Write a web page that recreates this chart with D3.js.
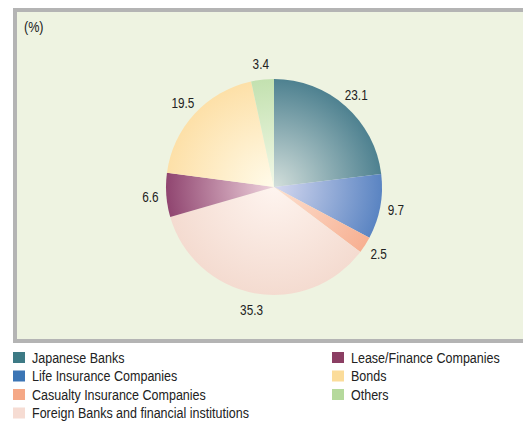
<!DOCTYPE html>
<html>
<head>
<meta charset="utf-8">
<script src="https://cdn.jsdelivr.net/npm/d3@7"></script>
<style>
  html, body { margin: 0; padding: 0; background: #fff; }
  svg { display: block; font-family: 'Liberation Sans', Arial, sans-serif; }
</style>
</head>
<body>
<div id="chart"></div>
<script>
const categories = [
  'Japanese Banks',
  'Life Insurance Companies',
  'Casualty Insurance Companies',
  'Foreign Banks and financial institutions',
  'Lease/Finance Companies',
  'Bonds',
  'Others'
];
const values = [23.1, 9.7, 2.5, 35.3, 6.6, 19.5, 3.4];
const labels = ['23.1', '9.7', '2.5', '35.3', '6.6', '19.5', '3.4'];
const unitLabel = '(%)';

// legend swatch colours and the slice edge / centre colours
const legendColors = ['#3d7a85', '#3b75b5', '#f5a886', '#f6dcd3', '#8b3e63', '#fbdc9a', '#b5d99c'];
const edgeColors = ['#4e8190', '#5a84c2', '#f7b092', '#f4dbd0', '#904570', '#fde0a8', '#c3e1b0'];
const centerColors = ['#d3dfdb', '#d6d9f0', '#fde0d0', '#fef4ef', '#efd3dd', '#fffbea', '#f3f9e8'];

const W = 523, H = 421;
const cx = 274, cy = 187, R = 108, labelR = 124;

const svg = d3.select('#chart').append('svg').attr('width', W).attr('height', H);

// panel
svg.append('rect')
  .attr('x', 15).attr('y', 10)
  .attr('width', 530).attr('height', 331)
  .attr('fill', '#eef3e1')
  .attr('stroke', '#b4b4b4')
  .attr('stroke-width', 4);

svg.append('text')
  .attr('transform', 'translate(24,32) scale(0.9,1)')
  .attr('font-size', 14)
  .attr('fill', '#222')
  .text(unitLabel);

// gradients
const defs = svg.append('defs');
categories.forEach((c, i) => {
  const g = defs.append('radialGradient')
    .attr('id', 'grad' + i)
    .attr('gradientUnits', 'userSpaceOnUse')
    .attr('cx', 0).attr('cy', 0).attr('r', R);
  g.append('stop').attr('offset', '0%').attr('stop-color', centerColors[i]);
  g.append('stop').attr('offset', '100%').attr('stop-color', edgeColors[i]);
});

const pie = d3.pie().sort(null).value(d => d);
const arcs = pie(values);
const arc = d3.arc().innerRadius(0).outerRadius(R);
const labelArc = d3.arc().innerRadius(labelR).outerRadius(labelR);

const pieG = svg.append('g').attr('transform', `translate(${cx},${cy})`);

pieG.selectAll('.slice')
  .data(arcs)
  .join('path')
  .attr('class', 'slice')
  .attr('d', arc)
  .attr('fill', (d, i) => `url(#grad${i})`);

pieG.selectAll('.lbl')
  .data(arcs)
  .join('text')
  .attr('class', 'lbl')
  .attr('transform', d => `translate(${labelArc.centroid(d)}) scale(0.76,1)`)
  .attr('text-anchor', 'middle')
  .attr('dy', '0.36em')
  .attr('font-size', 15.5)
  .attr('fill', '#222')
  .text((d, i) => labels[i]);

// legend
const legendRows = 4, rowH = 18.5;
const legend = svg.append('g');
categories.forEach((c, i) => {
  const col = Math.floor(i / legendRows);
  const row = i % legendRows;
  const x = col === 0 ? 13 : 332;
  const y = 357.5 + row * rowH;
  legend.append('rect')
    .attr('x', x).attr('y', y - 5.5)
    .attr('width', 12).attr('height', 11)
    .attr('fill', legendColors[i]);
  legend.append('text')
    .attr('transform', `translate(${x + 19},${y}) scale(0.835,1)`)
    .attr('dy', '0.36em')
    .attr('font-size', 15)
    .attr('fill', '#222')
    .text(c);
});
</script>
</body>
</html>
